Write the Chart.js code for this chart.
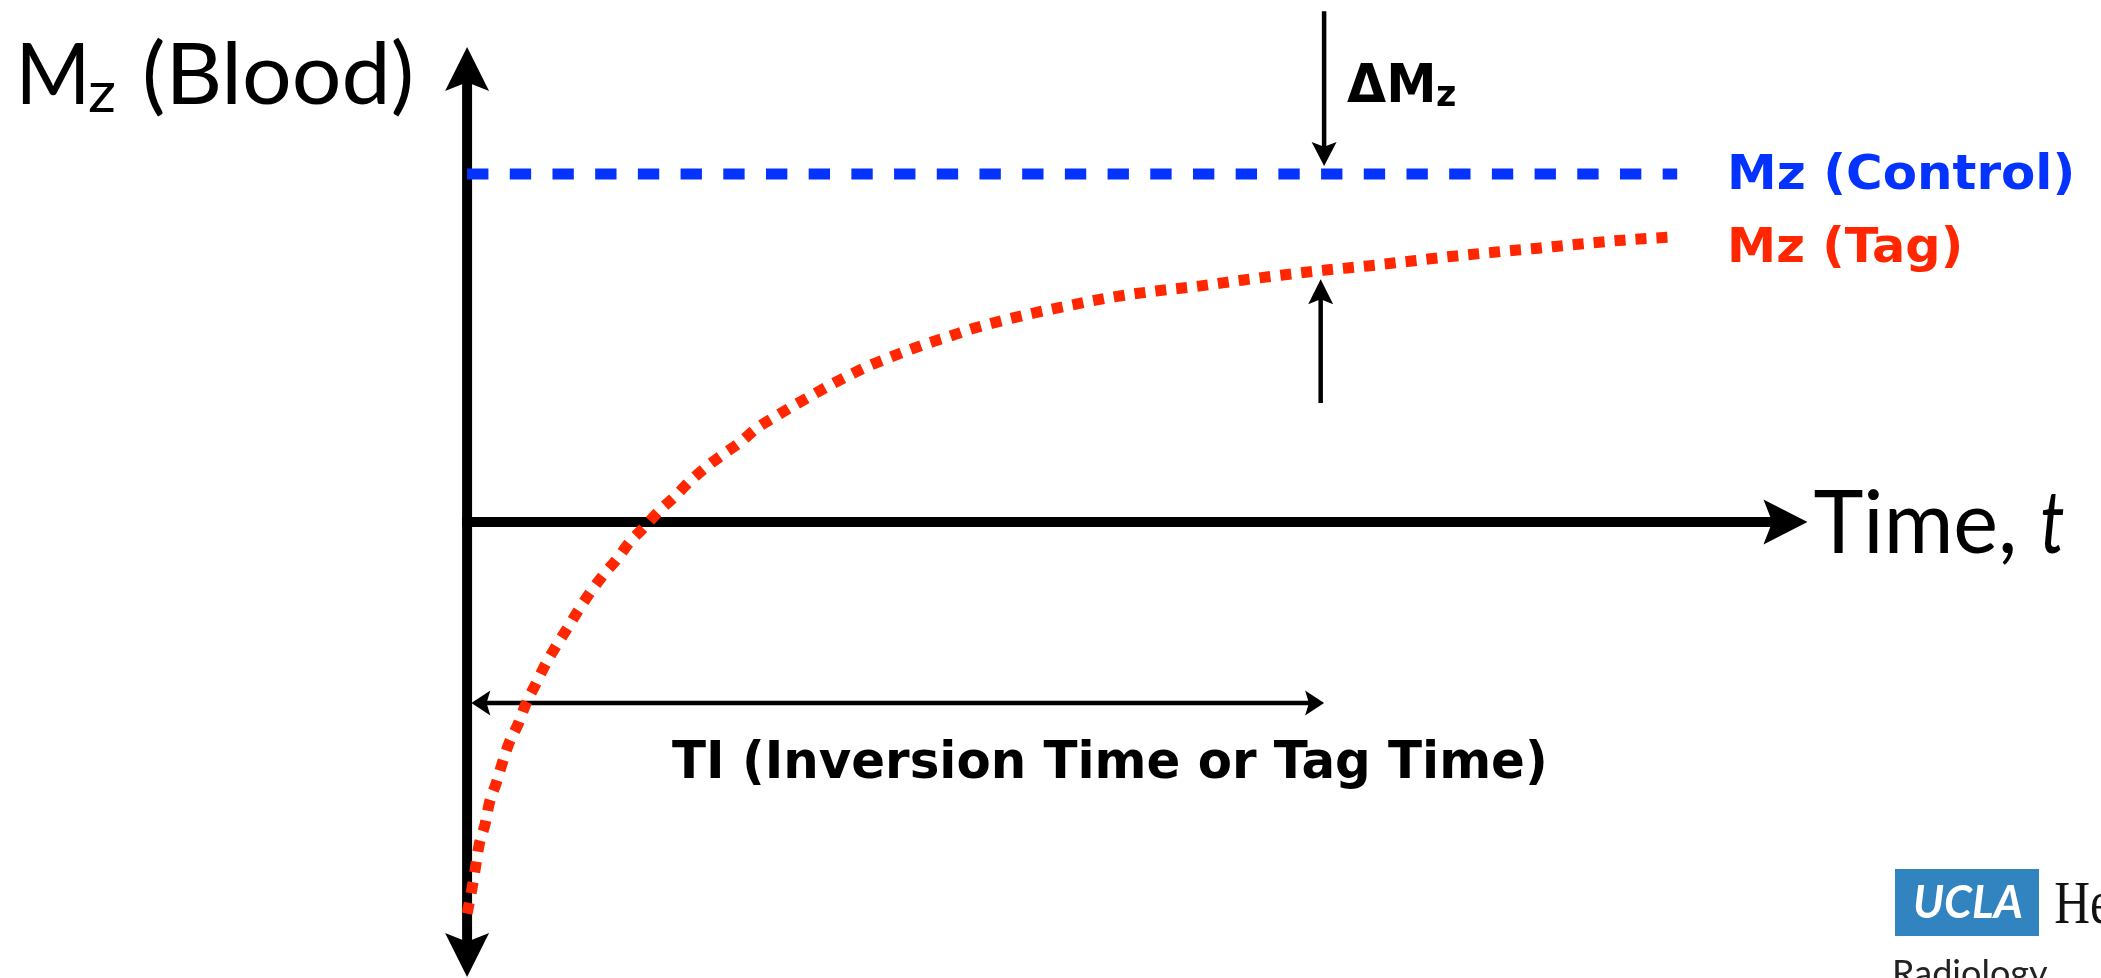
<!DOCTYPE html>
<html>
<head>
<meta charset="utf-8">
<script src="https://cdn.jsdelivr.net/npm/chart.js@4.4.1/dist/chart.umd.min.js"></script>
<style>
  html, body { margin: 0; padding: 0; background: #fff; }
  canvas { display: block; }
</style>
</head>
<body>
<canvas id="c" width="2101" height="978"></canvas>
<script>
// Longitudinal magnetisation of blood after a tagging (inversion) pulse.
// Time in ms, Mz normalised to the equilibrium (control) value.
const controlTime = [0, 1412];
const controlMz   = [1, 1];

const tagTime = [0, 6, 10, 14, 21, 26, 34, 41, 49, 60, 69, 80, 91, 104, 117, 130, 144, 159,
  175, 190, 207, 224, 242, 259, 279, 299, 319, 338, 359, 380, 403, 424, 446, 468, 491, 515,
  538, 561, 585, 609, 657, 706, 755, 804, 854, 904, 952, 1002, 1051, 1102, 1151, 1201, 1250,
  1299, 1349, 1406];
const tagMz = [-1.125, -1.049, -0.989, -0.928, -0.868, -0.807, -0.750, -0.693, -0.635, -0.578,
  -0.520, -0.466, -0.411, -0.356, -0.305, -0.253, -0.201, -0.152, -0.106, -0.057, -0.014,
  0.032, 0.072, 0.115, 0.158, 0.195, 0.230, 0.270, 0.302, 0.333, 0.365, 0.394, 0.422, 0.448,
  0.471, 0.494, 0.514, 0.532, 0.552, 0.569, 0.598, 0.624, 0.647, 0.664, 0.678, 0.695, 0.710,
  0.724, 0.736, 0.750, 0.764, 0.776, 0.787, 0.799, 0.810, 0.819];

// Axis extents and annotation anchors (data units)
const timeAxisEnd   = 1564;
const mzAxisTop     = 1.365;
const mzAxisBottom  = -1.307;
const inversionTime = 1000;
const tiArrowMz     = -0.52;
const deltaDownTime = 1000, deltaDownFrom = 1.468, deltaDownTo = 1.023;
const deltaUpTime   = 996,  deltaUpFrom   = 0.342, deltaUpTo   = 0.698;

const BLUE = '#0433FF';
const RED  = '#FF2600';

function toPoints(xs, ys) { return xs.map((v, i) => ({ x: v, y: ys[i] })); }

function head(ctx, tx, ty, ux, uy, len, hw) {
  const bx = tx - ux * len, by = ty - uy * len;
  const nx = -uy, ny = ux;
  ctx.beginPath();
  ctx.moveTo(tx, ty);
  ctx.lineTo(bx + nx * hw, by + ny * hw);
  ctx.lineTo(tx - ux * len * 0.8, ty - uy * len * 0.8);
  ctx.lineTo(bx - nx * hw, by - ny * hw);
  ctx.closePath();
  ctx.fill();
}

function arrow(ctx, x1, y1, x2, y2, lw, len, hw, startHead, endHead) {
  const d = Math.hypot(x2 - x1, y2 - y1);
  const ux = (x2 - x1) / d, uy = (y2 - y1) / d;
  const s = startHead ? len * 0.75 : 0, e = endHead ? len * 0.75 : 0;
  ctx.lineWidth = lw;
  ctx.lineCap = 'butt';
  ctx.beginPath();
  ctx.moveTo(x1 + ux * s, y1 + uy * s);
  ctx.lineTo(x2 - ux * e, y2 - uy * e);
  ctx.stroke();
  if (endHead) head(ctx, x2, y2, ux, uy, len, hw);
  if (startHead) head(ctx, x1, y1, -ux, -uy, len, hw);
}

// Draws text so that its ink spans [left, right] on the given baseline
// (or, with no right edge, at a fixed horizontal scale).
function inkText(ctx, text, font, left, right, baseline, color, fixedScale) {
  ctx.font = font;
  ctx.fillStyle = color;
  ctx.textAlign = 'left';
  ctx.textBaseline = 'alphabetic';
  const m = ctx.measureText(text);
  const w = m.actualBoundingBoxLeft + m.actualBoundingBoxRight;
  const s = right != null ? (right - left) / w : (fixedScale || 1);
  ctx.save();
  ctx.translate(left, baseline);
  ctx.scale(s, 1);
  ctx.fillText(text, m.actualBoundingBoxLeft, 0);
  ctx.restore();
}

const diagram = {
  id: 'diagram',
  beforeDatasetsDraw(chart) {
    const { ctx, scales: { x, y } } = chart;
    const X = v => x.getPixelForValue(v), Y = v => y.getPixelForValue(v);
    ctx.save();
    ctx.fillStyle = '#000';
    ctx.strokeStyle = '#000';
    // Mz axis (both directions) and time axis
    arrow(ctx, X(0), Y(mzAxisBottom), X(0), Y(mzAxisTop), 10, 44, 22, true, true);
    arrow(ctx, X(0) - 5, Y(0), X(timeAxisEnd), Y(0), 10, 44, 22.5, false, true);
    // TI span
    arrow(ctx, X(5), Y(tiArrowMz), X(inversionTime), Y(tiArrowMz), 4.5, 19, 12.5, true, true);
    // Delta Mz markers
    arrow(ctx, X(deltaDownTime), Y(deltaDownFrom), X(deltaDownTime), Y(deltaDownTo), 4.5, 24, 12.5, false, true);
    arrow(ctx, X(deltaUpTime), Y(deltaUpFrom), X(deltaUpTime), Y(deltaUpTo), 4.5, 25, 12.5, false, true);
    ctx.restore();
  },
  afterDraw(chart) {
    const { ctx, scales: { x, y } } = chart;
    const X = v => x.getPixelForValue(v), Y = v => y.getPixelForValue(v);
    const ox = X(0), oy = Y(0), cy = Y(1);
    ctx.save();
    const BOLD = 'bold ', SANS = '"DejaVu Sans", sans-serif';
    // Axis titles
    inkText(ctx, 'M', '86px Lato, sans-serif', ox - 445, ox - 384, oy - 418, '#000');
    inkText(ctx, 'z', '57px Lato, sans-serif', ox - 378, ox - 353, oy - 410, '#000');
    inkText(ctx, '(Blood)', '86px Lato, sans-serif', ox - 322, ox - 56, oy - 418, '#000');
    const tx = X(timeAxisEnd);
    inkText(ctx, 'Time,', '88px Lato, sans-serif', tx + 7, tx + 206, oy + 31, '#000');
    inkText(ctx, 't', 'italic 88px Lato, sans-serif', tx + 235, tx + 256, oy + 31, '#000');
    // Delta Mz label
    const dx = X(deltaDownTime);
    inkText(ctx, '\u0394M', BOLD + '54px ' + SANS, dx + 23, dx + 108, oy - 420, '#000');
    inkText(ctx, 'z', BOLD + '35px ' + SANS, dx + 113, dx + 131, oy - 416, '#000');
    // Series labels
    const lx = X(controlTime[1]) + 54;
    inkText(ctx, 'Mz (Control)', BOLD + '48px ' + SANS, lx, lx + 340, cy + 15, BLUE);
    inkText(ctx, 'Mz (Tag)', BOLD + '48px ' + SANS, lx, lx + 228, cy + 88, RED);
    // TI caption
    inkText(ctx, 'TI (Inversion Time or Tag Time)', BOLD + '52px ' + SANS, ox + 205, ox + 1077, oy + 256, '#000');
    // Institution logo
    ctx.fillStyle = '#3284C0';
    ctx.fillRect(1895, 869, 144, 67);
    inkText(ctx, 'UCLA', 'italic bold 46px Lato, sans-serif', 1915, 2022, 918, '#fff');
    inkText(ctx, 'Health', '62px "Liberation Serif", serif', 2055, null, 923, '#111', 0.8);
    inkText(ctx, 'Radiology', '36px Lato, sans-serif', 1895, null, 986, '#222');
    ctx.restore();
  }
};

new Chart(document.getElementById('c'), {
  type: 'scatter',
  data: {
    datasets: [
      {
        label: 'Mz (Control)',
        data: toPoints(controlTime, controlMz),
        showLine: true,
        borderColor: BLUE,
        borderWidth: 11,
        borderDash: [21.35, 21.35],
        borderCapStyle: 'butt',
        pointRadius: 0,
        fill: false
      },
      {
        label: 'Mz (Tag)',
        data: toPoints(tagTime, tagMz),
        showLine: true,
        borderColor: RED,
        borderWidth: 11,
        borderDash: [11, 10],
        borderCapStyle: 'butt',
        cubicInterpolationMode: 'monotone',
        pointRadius: 0,
        fill: false
      }
    ]
  },
  options: {
    responsive: false,
    animation: false,
    devicePixelRatio: 1,
    layout: { padding: 0 },
    scales: {
      x: { type: 'linear', min: -545, max: 1906.5, display: false },
      y: { type: 'linear', min: -1.31, max: 1.5, display: false }
    },
    plugins: {
      legend: { display: false },
      tooltip: { enabled: false }
    }
  },
  plugins: [diagram]
});
</script>
</body>
</html>
